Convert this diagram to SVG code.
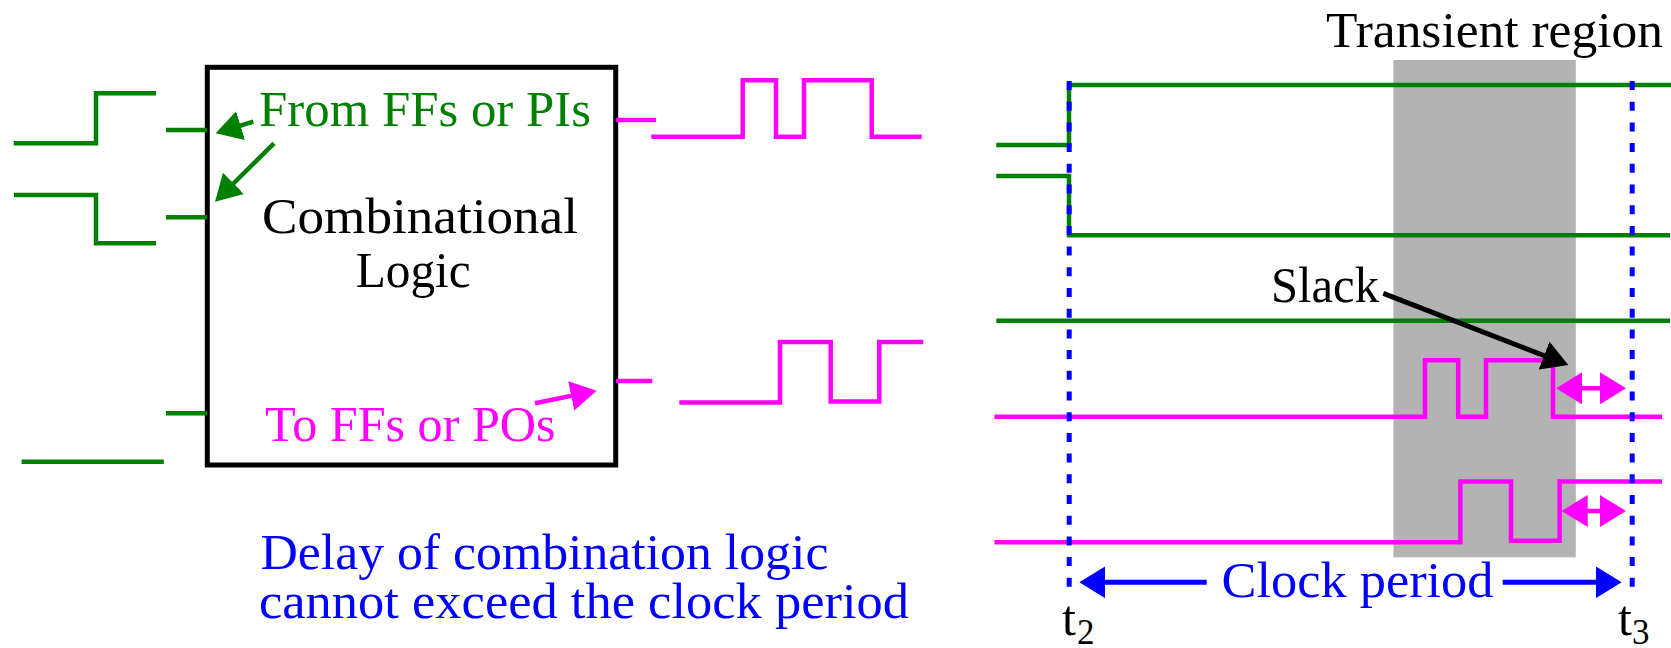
<svg xmlns="http://www.w3.org/2000/svg" width="1671" height="648" viewBox="0 0 1671 648">
<style>
.t{font-family:'Liberation Serif','DejaVu Serif',serif;font-size:50px}
.sub{font-size:35px}
.g{stroke:#008000;stroke-width:4.5;fill:none}
.m{stroke:#ff00ff;stroke-width:4.5;fill:none}
.k{stroke:#000;stroke-width:5;fill:none}
.b{stroke:#0000ff;stroke-width:5;fill:none}
.dash{stroke:#0000ff;stroke-width:5;fill:none;stroke-dasharray:9 11.7}
</style>
<defs>
<marker id="ag" markerUnits="userSpaceOnUse" markerWidth="26" markerHeight="30" refX="20" refY="15" orient="auto" viewBox="0 0 26 30"><path d="M0,0 L26,15 L0,30 z" fill="#008000"/></marker>
<marker id="am" markerUnits="userSpaceOnUse" markerWidth="26" markerHeight="30" refX="20" refY="15" orient="auto" viewBox="0 0 26 30"><path d="M0,0 L26,15 L0,30 z" fill="#ff00ff"/></marker>
<marker id="ak" markerUnits="userSpaceOnUse" markerWidth="26" markerHeight="30" refX="20" refY="15" orient="auto" viewBox="0 0 26 30"><path d="M0,0 L26,15 L0,30 z" fill="#000"/></marker>
<marker id="ab" markerUnits="userSpaceOnUse" markerWidth="26" markerHeight="32" refX="20" refY="16" orient="auto" viewBox="0 0 26 32"><path d="M0,0 L26,16 L0,32 z" fill="#0000ff"/></marker>
<marker id="amd" markerUnits="userSpaceOnUse" markerWidth="26" markerHeight="32" refX="20" refY="16" orient="auto-start-reverse" viewBox="0 0 26 32"><path d="M0,0 L26,16 L0,32 z" fill="#ff00ff"/></marker>
</defs>

<g id="transient-region">
<rect x="1393.4" y="60" width="182.4" height="497.3" fill="#b3b3b3"/>
<text class="t" font-family="Liberation Serif, serif" x="1326" y="46.7" textLength="337" lengthAdjust="spacingAndGlyphs" fill="#000">Transient region</text>
</g>

<g id="comb-logic">
<rect x="207.3" y="67.3" width="408.4" height="397.7" fill="#fff" stroke="#000" stroke-width="5"/>
<text class="t" font-family="Liberation Serif, serif" x="262" y="232.7" textLength="316" lengthAdjust="spacingAndGlyphs" fill="#000">Combinational</text>
<text class="t" font-family="Liberation Serif, serif" x="355.7" y="287.3" textLength="115" lengthAdjust="spacingAndGlyphs" fill="#000">Logic</text>
</g>

<g id="inputs">
<path class="g" d="M13.7,143.3 H96 V93.3 H156"/>
<path class="g" d="M14,195 H96 V243.3 H156"/>
<path class="g" d="M166,130 H207 M166,217.3 H207 M166,413.3 H207"/>
<path class="g" d="M21.6,461.7 H163.8"/>
<text class="t" font-family="Liberation Serif, serif" x="259" y="126" textLength="332" lengthAdjust="spacingAndGlyphs" fill="#008000">From FFs or PIs</text>
</g>

<g id="outputs">
<path class="m" d="M616,120 H656 M616,381 H652.3"/>
<path class="m" d="M651.3,136.7 H742.7 V80.3 H776 V136.7 H804 V80.3 H871.7 V136.7 H921.7"/>
<path class="m" d="M679.3,402.5 H780 V342 H830.7 V401.5 H879.3 V342 H923.3"/>
<text class="t" font-family="Liberation Serif, serif" x="265" y="440.7" textLength="290.6" lengthAdjust="spacingAndGlyphs" fill="#ff00ff">To FFs or POs</text>
</g>

<g id="timing-signals">
<path class="g" d="M996.3,145 H1069 V85 H1671"/>
<path class="g" d="M996.3,176 H1069 V235.3 H1670"/>
<path class="g" d="M996.3,320.7 H1670"/>
<path class="m" d="M994.5,416.7 H1425 V360.3 H1458.2 V416.7 H1486 V360.3 H1553 V416.7 H1662"/>
<path class="m" d="M994.5,542.3 H1460.4 V481.5 H1511 V540.7 H1559.6 V481.5 H1662"/>
</g>

<g id="clock-edges">
<path class="dash" d="M1069.2,81 V587"/>
<path class="dash" d="M1632.2,81 V587"/>
<text class="t" font-family="Liberation Serif, serif" x="1062" y="635" fill="#000">t</text><text class="t sub" font-family="Liberation Serif, serif" x="1077" y="644" fill="#000">2</text>
<text class="t" font-family="Liberation Serif, serif" x="1618" y="635" fill="#000">t</text><text class="t sub" font-family="Liberation Serif, serif" x="1632" y="644" fill="#000">3</text>
</g>

<g id="slack-label">
<text class="t" font-family="Liberation Serif, serif" x="1271" y="301.7" textLength="108" lengthAdjust="spacingAndGlyphs" fill="#000">Slack</text>
</g>

<g id="clock-period-label">
<text class="t" font-family="Liberation Serif, serif" x="1221.5" y="596.7" textLength="272" lengthAdjust="spacingAndGlyphs" fill="#0000ff">Clock period</text>
</g>

<g id="delay-note">
<text class="t" font-family="Liberation Serif, serif" x="260.4" y="569.3" textLength="568" lengthAdjust="spacingAndGlyphs" fill="#0000ff">Delay of combination logic</text>
<text class="t" font-family="Liberation Serif, serif" x="259" y="618.3" textLength="650" lengthAdjust="spacingAndGlyphs" fill="#0000ff">cannot exceed the clock period</text>
</g>

<g id="connectors">
<line class="g" x1="253.3" y1="121.7" x2="221.4" y2="131.5" stroke-width="5" marker-end="url(#ag)"/>
<line class="g" x1="274" y1="143.3" x2="219.3" y2="197.5" stroke-width="5" marker-end="url(#ag)"/>
<line class="m" x1="535" y1="403.3" x2="590.8" y2="391.9" stroke-width="5" marker-end="url(#am)"/>
<line class="k" x1="1383.3" y1="293.3" x2="1562.7" y2="362.8" marker-end="url(#ak)"/>
<line class="m" x1="1562" y1="388.3" x2="1620" y2="388.3" stroke-width="5" marker-start="url(#amd)" marker-end="url(#amd)"/>
<line class="m" x1="1567.7" y1="511" x2="1620" y2="511" stroke-width="5" marker-start="url(#amd)" marker-end="url(#amd)"/>
<line class="b" x1="1206.7" y1="582.3" x2="1085.3" y2="582.3" marker-end="url(#ab)"/>
<line class="b" x1="1502.7" y1="582.3" x2="1615.7" y2="582.3" marker-end="url(#ab)"/>
</g>
</svg>
